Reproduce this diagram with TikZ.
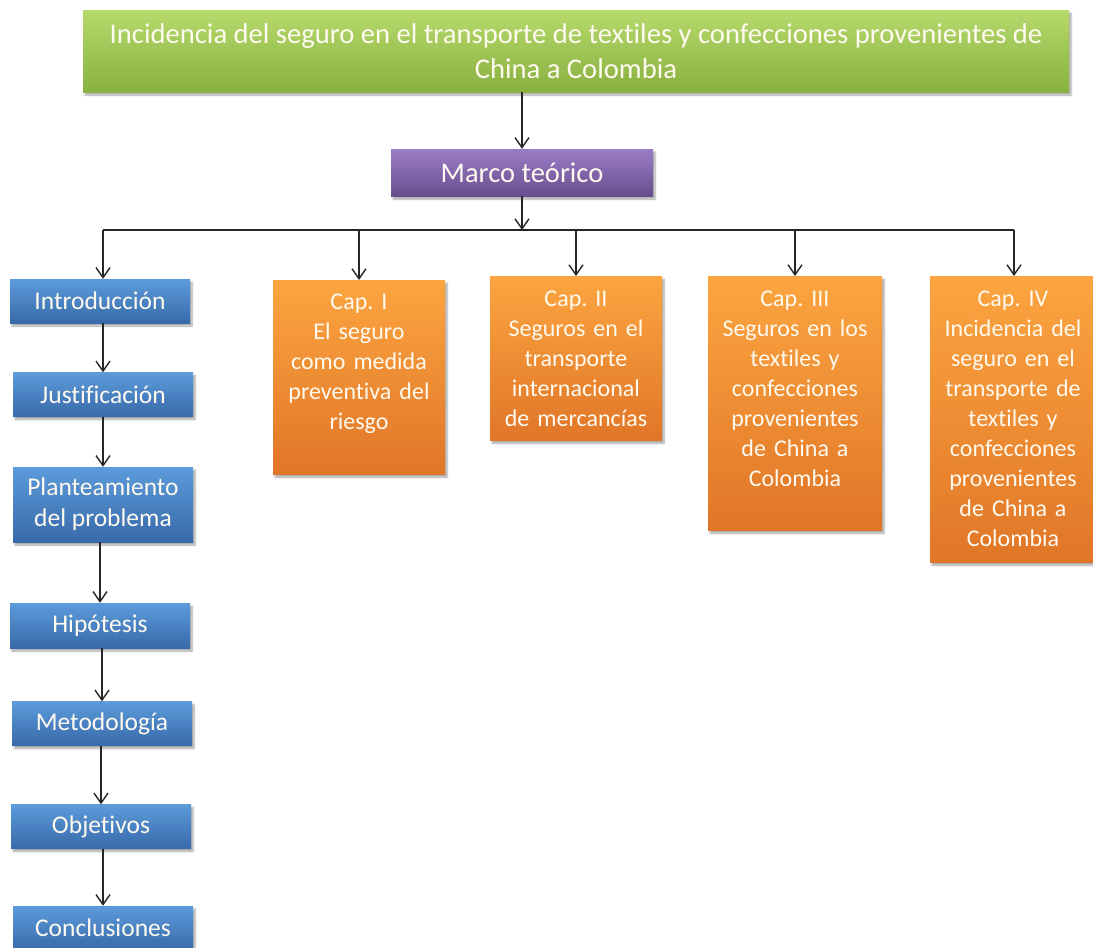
\documentclass[tikz,border=0pt]{standalone}
\usepackage{fontspec}
\setmainfont{Carlito}[Ligatures=NoCommon]
\frenchspacing
\usetikzlibrary{arrows.meta,shadows.blur}

\definecolor{verdeA}{RGB}{182,218,108}
\definecolor{verdeB}{RGB}{138,176,66}
\definecolor{moradoA}{RGB}{155,125,198}
\definecolor{moradoB}{RGB}{104,78,142}
\definecolor{azulA}{RGB}{92,155,218}
\definecolor{azulB}{RGB}{56,106,170}
\definecolor{naranjaA}{RGB}{252,165,64}
\definecolor{naranjaB}{RGB}{224,118,40}
\definecolor{letra}{RGB}{255,250,240}

\tikzset{
    caja/.style={rectangle, text=letra, inner sep=0pt,
        blur shadow={shadow xshift=2pt, shadow yshift=-3pt, shadow opacity=35, shadow blur steps=6}},
    titulo/.style={caja, top color=verdeA, bottom color=verdeB, minimum width=986pt,
        minimum height=82pt, align=center, font=\fontsize{28.6}{35}\selectfont},
    marco/.style={caja, top color=moradoA, bottom color=moradoB, minimum width=262pt,
        minimum height=47pt, font=\fontsize{28.5}{32}\selectfont},
    azul/.style={caja, top color=azulA, bottom color=azulB, minimum width=180pt,
        minimum height=44pt, align=center, font=\fontsize{25.5}{31}\selectfont},
    capitulo/.style={caja, top color=naranjaA, bottom color=naranjaB, text width=172pt,
        align=center, anchor=north, text height=29pt, font=\fontsize{24}{30}\selectfont},
    flecha/.style={-{Straight Barb[length=10pt,width=14pt]}, line width=1.4pt, black!85}
}

\begin{document}
\begin{tikzpicture}[x=1pt,y=-1pt]
            \useasboundingbox (0,0) rectangle (1093,948);

            \node[titulo] (tit) at (576,51)
                {Incidencia del seguro en el transporte de textiles y confecciones provenientes de\\China a Colombia};
            \node[marco] (marco) at (522,172.5) {Marco teórico};

            % columna izquierda
            \node[azul] (intro) at (100,301) {Introducción};
            \node[azul] (just) at (103,394.5) {Justificación};
            \node[azul, minimum height=75pt] (plan) at (103,504.5) {Planteamiento\\del problema};
            \node[azul, minimum height=45pt] (hip) at (100,625.5) {Hipótesis};
            \node[azul] (met) at (102,723.5) {Metodología};
            \node[azul] (obj) at (101,826.5) {Objetivos};
            \node[azul] (conc) at (103,928) {Conclusiones};

            % capitulos
            \node[capitulo, text depth=165pt] (cap1) at (359,280)
                {Cap. I\\El seguro\\como medida\\preventiva del\\riesgo};
            \node[capitulo, text height=30pt, text depth=134pt] (cap2) at (576,276)
                {Cap. II\\Seguros en el\\transporte\\internacional\\de mercancías};
            \node[capitulo, text height=30pt, text depth=224pt, text width=174pt] (cap3) at (795,276)
                {Cap. III\\Seguros en los\\textiles y\\confecciones\\provenientes\\de China a\\Colombia};
            \node[capitulo, text height=30pt, text depth=256pt, text width=166pt] (cap4) at (1013,276)
                {Cap. IV\\Incidencia del\\seguro en el\\transporte de\\textiles y\\confecciones\\provenientes\\de China a\\Colombia};

            \coordinate (busL) at (103,230);
            \coordinate (busR) at (1014,230);

            \draw[flecha] (marco.north |- tit.south) -- (marco.north);
            \draw[flecha] (marco.south) -- (marco.south |- busL);
            \draw[line width=1.4pt, black!85] (busL) -- (busR);
            \draw[flecha] (busL) -- (busL |- intro.north);
            \draw[flecha] (busR) -- (busR |- cap4.north);
            \foreach \c in {cap1,cap2,cap3}
                \draw[flecha] (\c.north |- busL) -- (\c.north);

            \foreach \a/\b in {intro/just,just/plan,plan/hip,hip/met,met/obj,obj/conc}
                \draw[flecha] (\b.north |- \a.south) -- (\b.north);
        \end{tikzpicture}
\end{document}
